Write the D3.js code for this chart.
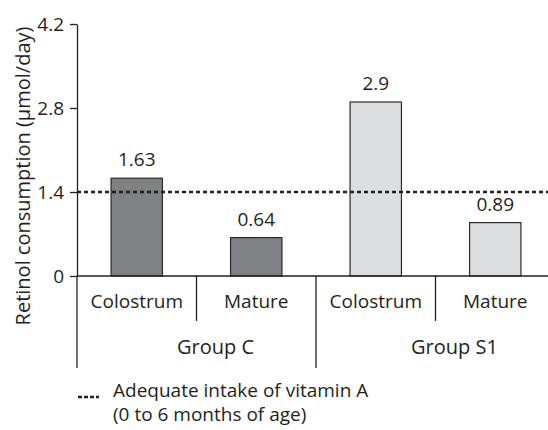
<!DOCTYPE html>
<html>
<head>
<meta charset="utf-8">
<script src="https://cdn.jsdelivr.net/npm/d3@7"></script>
<style>
  body { margin: 0; background: #fff; }
  svg text { font-family: "Open Sans", sans-serif; fill: #231f20; }
</style>
</head>
<body>
<svg width="548" height="430"></svg>
<script>
// data
const groups = ['Group C', 'Group S1'];
const milkTypes = ['Colostrum', 'Mature'];
const values = [1.63, 0.64, 2.9, 0.89];
const yTicks = [0, 1.4, 2.8, 4.2];
const adequateIntake = 1.4;
const groupColors = ['#808185', '#dcdddf'];

const svg = d3.select('svg');

const y = d3.scaleLinear().domain([0, 4.2]).range([276, 24]);

// one band per bar
const keys = [];
groups.forEach(function(g) {
  milkTypes.forEach(function(m) { keys.push(g + '|' + m); });
});
const x = d3.scaleBand().domain(keys).range([77, 555]).padding(0);
const barW = x.bandwidth() * 0.43;

const g = svg.append('g');

// bars
g.selectAll('rect.bar')
  .data(values)
  .enter()
  .append('rect')
  .attr('class', 'bar')
  .attr('x', function(d, i) { return x(keys[i]) + (x.bandwidth() - barW) / 2; })
  .attr('y', function(d) { return y(d); })
  .attr('width', barW)
  .attr('height', function(d) { return y(0) - y(d); })
  .attr('fill', function(d, i) { return groupColors[Math.floor(i / milkTypes.length)]; })
  .attr('stroke', '#2b2b2b')
  .attr('stroke-width', 1.2);

// value labels
g.selectAll('text.val')
  .data(values)
  .enter()
  .append('text')
  .attr('class', 'val')
  .attr('x', function(d, i) { return x(keys[i]) + x.bandwidth() / 2; })
  .attr('y', function(d) { return y(d) - 12; })
  .attr('text-anchor', 'middle')
  .attr('font-size', 19)
  .text(function(d) { return d; });

// reference line
g.append('line')
  .attr('x1', 77).attr('x2', 548)
  .attr('y1', y(adequateIntake)).attr('y2', y(adequateIntake))
  .attr('stroke', '#231f20')
  .attr('stroke-width', 2.5)
  .attr('stroke-dasharray', '4,3');

// y axis
const yAxis = g.append('g')
  .attr('transform', 'translate(77,0)')
  .call(d3.axisLeft(y).tickValues(yTicks).tickSize(7).tickSizeOuter(0)
    .tickFormat(function(d) { return d === 0 ? '0' : d.toFixed(1); }));
yAxis.select('.domain').attr('stroke', '#231f20').attr('stroke-width', 1.3);
yAxis.selectAll('.tick line').attr('stroke', '#231f20').attr('stroke-width', 1.3);
yAxis.selectAll('.tick text')
  .attr('font-size', 19)
  .attr('font-family', '"Open Sans", sans-serif')
  .attr('fill', '#231f20')
  .attr('x', -13)
  .attr('dy', '0.35em');

// left line continues below the axis
g.append('line')
  .attr('x1', 77).attr('x2', 77)
  .attr('y1', y(0)).attr('y2', 368)
  .attr('stroke', '#231f20').attr('stroke-width', 1.3);

// x baseline
g.append('line')
  .attr('x1', 77).attr('x2', 548)
  .attr('y1', y(0)).attr('y2', y(0))
  .attr('stroke', '#231f20').attr('stroke-width', 1.3);

// separators
keys.forEach(function(k, i) {
  if (i === 0) return;
  const long = i % milkTypes.length === 0;
  g.append('line')
    .attr('x1', x(k)).attr('x2', x(k))
    .attr('y1', y(0)).attr('y2', long ? 368 : 321)
    .attr('stroke', '#231f20').attr('stroke-width', 1.3);
});

// sub labels
g.selectAll('text.sub')
  .data(keys)
  .enter()
  .append('text')
  .attr('class', 'sub')
  .attr('x', function(k) { return x(k) + x.bandwidth() / 2; })
  .attr('y', 308)
  .attr('text-anchor', 'middle')
  .attr('font-size', 19)
  .text(function(k) { return k.split('|')[1]; });

// group labels
g.selectAll('text.grp')
  .data(groups)
  .enter()
  .append('text')
  .attr('class', 'grp')
  .attr('x', function(gr) {
    const first = x(gr + '|' + milkTypes[0]);
    return first + x.bandwidth() + 19;
  })
  .attr('y', 354)
  .attr('text-anchor', 'middle')
  .attr('font-size', 20)
  .text(function(gr) { return gr; });

// y title
g.append('text')
  .attr('transform', 'translate(30,176) rotate(-90)')
  .attr('text-anchor', 'middle')
  .attr('font-size', 20)
  .text('Retinol consumption (µmol/day)');

// legend
g.append('line')
  .attr('x1', 78).attr('x2', 99)
  .attr('y1', 397).attr('y2', 397)
  .attr('stroke', '#231f20')
  .attr('stroke-width', 2.5)
  .attr('stroke-dasharray', '4,2');
g.append('text')
  .attr('x', 113).attr('y', 397)
  .attr('font-size', 19)
  .text('Adequate intake of vitamin A');
g.append('text')
  .attr('x', 113).attr('y', 421)
  .attr('font-size', 19)
  .text('(0 to 6 months of age)');
</script>
</body>
</html>
